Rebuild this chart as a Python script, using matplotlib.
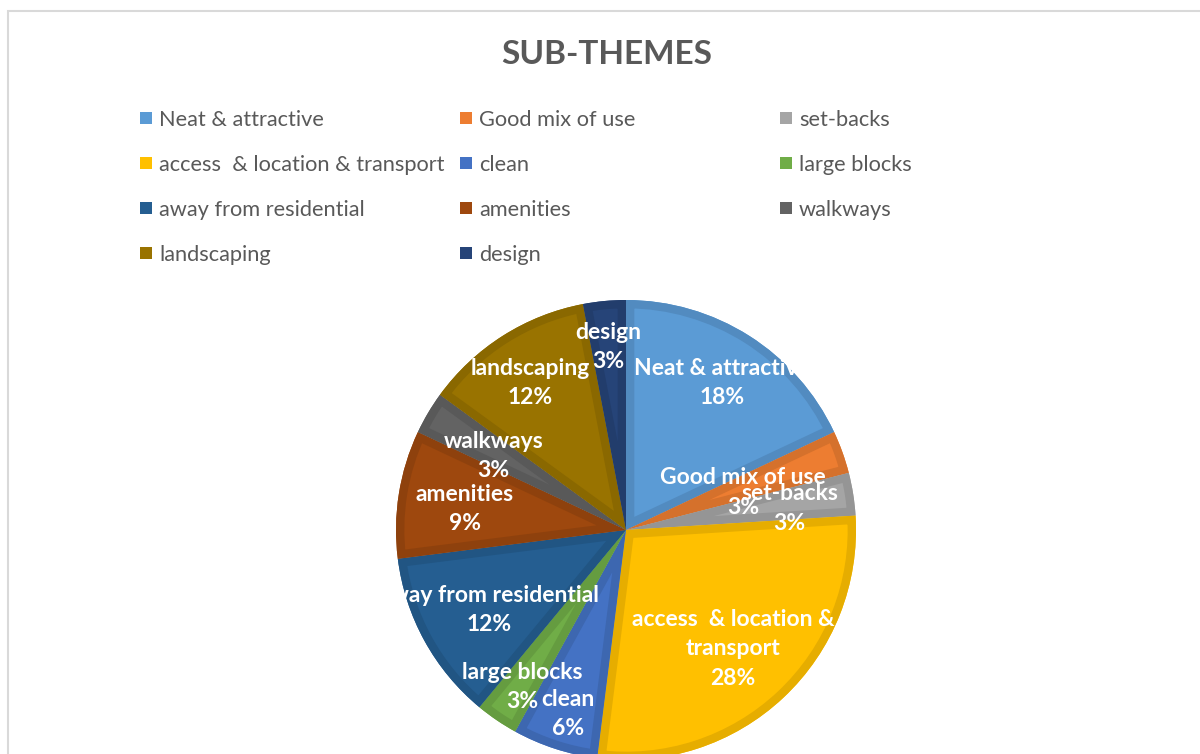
import textwrap
import numpy as np
import matplotlib
matplotlib.use("Agg")
import matplotlib.pyplot as plt
import matplotlib.colors as mcolors
from matplotlib.patches import Wedge, Rectangle

categories = ["Neat & attractive", "Good mix of use", "set-backs",
              "access  & location & transport", "clean", "large blocks",
              "away from residential", "amenities", "walkways",
              "landscaping", "design"]
shares = [18, 3, 3, 28, 6, 3, 12, 9, 3, 12, 3]
colors = ["#5B9BD5", "#ED7D31", "#A5A5A5", "#FFC000", "#4472C4", "#70AD47",
          "#255E91", "#9E480E", "#636363", "#997300", "#264478"]
# radial position of each data label (fraction of radius), as Excel placed them
label_r = [0.78, 0.54, 0.72, 0.68, 0.82, 0.80, 0.68, 0.71, 0.67, 0.78, 0.82]

W, H = 1200, 754
plt.rcParams['font.family'] = ['Lato', 'DejaVu Sans']
fig = plt.figure(figsize=(W / 100, H / 100), dpi=100)

# chart area frame (only left and top edge are visible)
fig.patches.append(Rectangle((8 / W, -0.1), 1.1, (H - 11) / H + 0.1,
                             transform=fig.transFigure, fill=False,
                             ec="#D9D9D9", lw=1.5))

fig.text(607 / W, 1 - 55 / H, "SUB-THEMES", ha="center", va="center",
         fontsize=24, fontweight="bold", color="#595959")

# legend, Excel style: filled row by row, equal column widths
for i, (name, c) in enumerate(zip(categories, colors)):
    row, col = divmod(i, 3)
    x0 = (140 + 320 * col) / W
    y0 = 1 - (118 + 45 * row) / H
    fig.patches.append(Rectangle((x0, y0 - 6 / H), 12 / W, 12 / H,
                                 transform=fig.transFigure, fc=c, ec="none"))
    fig.text(x0 + 19 / W, y0, name, ha="left", va="center_baseline",
             fontsize=15.7, color="#595959")

# pie
R = 230
cx, cy = 626, 530
half = 260
ax = fig.add_axes([(cx - half) / W, (H - cy - half) / H, 2 * half / W, 2 * half / H])
wedges, _ = ax.pie(shares, colors=colors, startangle=90, counterclock=False,
                   radius=1, wedgeprops=dict(lw=0))
lim = half / R
ax.set_xlim(-lim, lim)
ax.set_ylim(-lim, lim)
ax.axis("off")

for w, c in zip(wedges, colors):
    dark = np.array(mcolors.to_rgb(c)) * 0.9
    band = Wedge(w.center, w.r, w.theta1, w.theta2, fc="none", ec=dark, lw=12)
    ax.add_patch(band)
    band.set_clip_path(w)

for w, name, p, rr in zip(wedges, categories, shares, label_r):
    mid = np.deg2rad((w.theta1 + w.theta2) / 2)
    ax.text(rr * np.cos(mid), rr * np.sin(mid) - 0.02,
            textwrap.fill(name, 21) + f"\n{p}%",
            ha="center", va="center", color="white", fontsize=16.5,
            fontweight="bold", linespacing=1.5, zorder=5)

# Excel clips data labels just outside the pie
ax.add_patch(Wedge((0, 0), 2.0, 0, 360, width=2.0 - 1.03,
                   fc="white", ec="none", zorder=6))

fig.savefig("out.png", dpi=100)
